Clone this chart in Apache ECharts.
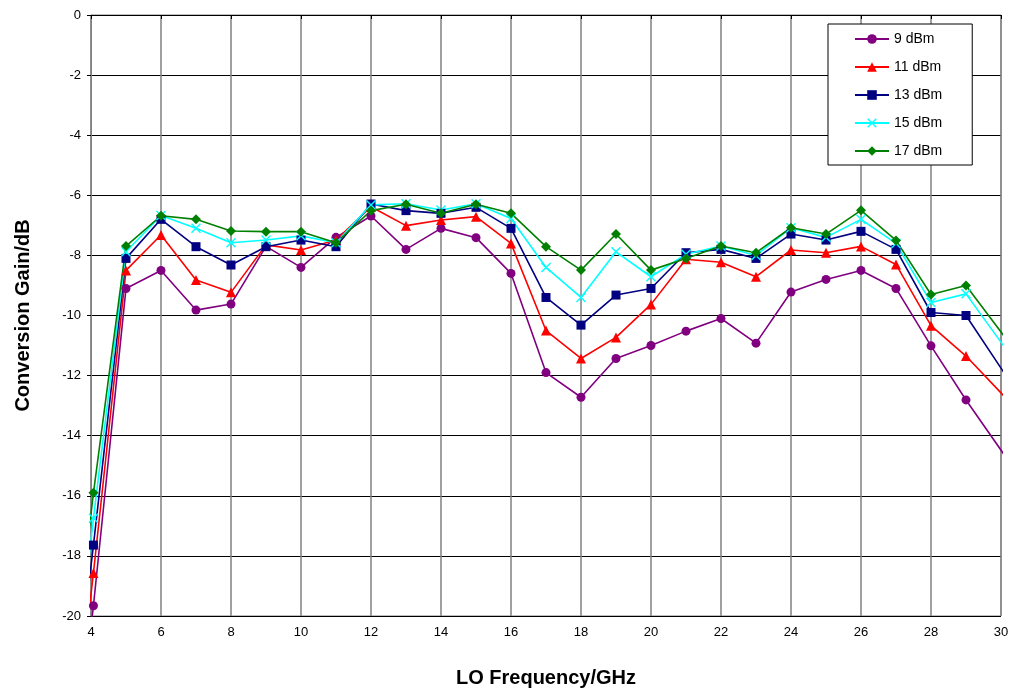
<!DOCTYPE html>
<html>
<head>
<meta charset="utf-8">
<script src="https://cdn.jsdelivr.net/npm/echarts@6/dist/echarts.min.js"></script>
<style>
  html, body { margin: 0; padding: 0; background: #fff; }
  #chart { width: 1014px; height: 693px; }
</style>
</head>
<body>
<div id="chart"></div>
<script>
// LO frequency points (GHz); first and last are just outside the visible axis
const freq = [3.5, 4.07, 5, 6, 7, 8, 9, 10, 11, 12, 13, 14, 15, 16, 17, 18, 19, 20, 21, 22, 23, 24, 25, 26, 27, 28, 29, 31]

const seriesNames = ['9 dBm', '11 dBm', '13 dBm', '15 dBm', '17 dBm']

const gain9 = [-25.3, -19.66, -9.1, -8.5, -9.82, -9.62, -7.7, -8.4, -7.4, -6.69, -7.8, -7.1, -7.41, -8.6, -11.9, -12.72, -11.43, -11.0, -10.52, -10.1, -10.92, -9.22, -8.8, -8.5, -9.1, -11.01, -12.81, -16.15]
const gain11 = [-24.3, -18.57, -8.5, -7.32, -8.82, -9.23, -7.65, -7.82, -7.49, -6.38, -7.01, -6.82, -6.71, -7.6, -10.5, -11.43, -10.73, -9.63, -8.13, -8.23, -8.71, -7.82, -7.91, -7.7, -8.3, -10.34, -11.35, -13.8]
const gain13 = [-23.3, -17.64, -8.1, -6.8, -7.71, -8.32, -7.71, -7.49, -7.71, -6.29, -6.51, -6.6, -6.4, -7.1, -9.4, -10.32, -9.32, -9.1, -7.91, -7.8, -8.1, -7.29, -7.49, -7.2, -7.8, -9.9, -10.0, -13.5]
const gain15 = [-22.5, -16.75, -7.88, -6.67, -7.1, -7.58, -7.49, -7.35, -7.58, -6.32, -6.28, -6.49, -6.28, -6.77, -8.4, -9.4, -7.88, -8.71, -7.96, -7.69, -8.0, -7.08, -7.4, -6.8, -7.6, -9.57, -9.28, -12.5]
const gain17 = [-21.6, -15.9, -7.69, -6.68, -6.8, -7.19, -7.21, -7.21, -7.58, -6.51, -6.3, -6.6, -6.3, -6.6, -7.71, -8.49, -7.29, -8.49, -8.1, -7.69, -7.91, -7.08, -7.29, -6.5, -7.5, -9.3, -9.0, -12.1]

const colors = ['#800080', '#ff0000', '#000080', '#00ffff', '#008000']
const symbols = [
    'circle',
    'triangle',
    'rect',
    'path://M0,1L1,0L5,4L9,0L10,1L6,5L10,9L9,10L5,6L1,10L0,9L4,5Z',
    'diamond'
]
const symbolSizes = [9, 10, 9, 10, 10]
const allGains = [gain9, gain11, gain13, gain15, gain17]

const chart = echarts.init(document.getElementById('chart'))

const series = allGains.map((g, i) => ({
    name: seriesNames[i],
    type: 'line',
    data: freq.map((f, j) => [f, g[j]]),
    symbol: symbols[i],
    symbolSize: symbolSizes[i],
    showAllSymbol: true,
    clip: true,
    lineStyle: { color: colors[i], width: 1.6 },
    itemStyle: { color: colors[i] },
    emphasis: { disabled: true },
    animation: false
}))

const font = 'Liberation Sans, Arial, sans-serif'

chart.setOption({
    backgroundColor: '#fff',
    color: colors,
    grid: {
        left: 91,
        right: 13,
        top: 15,
        bottom: 76,
        show: true,
        borderColor: '#808080',
        borderWidth: 1
    },
    legend: {
        orient: 'vertical',
        left: 828,
        top: 24,
        backgroundColor: '#fff',
        borderColor: '#000',
        borderWidth: 1,
        padding: [8, 30, 7, 26],
        itemWidth: 34,
        itemHeight: 12,
        itemGap: 14,
        textStyle: { fontFamily: font, fontSize: 14, color: '#000' },
        data: seriesNames
    },
    xAxis: {
        type: 'value',
        min: 4,
        max: 30,
        interval: 2,
        name: 'LO Frequency/GHz',
        nameLocation: 'middle',
        nameGap: 52,
        nameTextStyle: { fontFamily: font, fontSize: 20, fontWeight: 'bold', color: '#000' },
        axisLine: { show: true, lineStyle: { color: '#000', width: 1 } },
        axisTick: { show: true, length: 4, lineStyle: { color: '#000' } },
        axisLabel: { fontFamily: font, fontSize: 13, color: '#000', margin: 10 },
        splitLine: { show: true, lineStyle: { color: '#808080', width: 1.5 } }
    },
    yAxis: {
        type: 'value',
        min: -20,
        max: 0,
        interval: 2,
        name: 'Conversion Gain/dB',
        nameLocation: 'middle',
        nameGap: 58,
        nameTextStyle: { fontFamily: font, fontSize: 20, fontWeight: 'bold', color: '#000' },
        axisLine: { show: true, lineStyle: { color: '#808080', width: 1 } },
        axisTick: { show: true, length: 4, lineStyle: { color: '#000' } },
        axisLabel: { fontFamily: font, fontSize: 13, color: '#000', margin: 10 },
        splitLine: { show: true, lineStyle: { color: '#000', width: 1 } }
    },
    series: series
})
</script>
</body>
</html>
